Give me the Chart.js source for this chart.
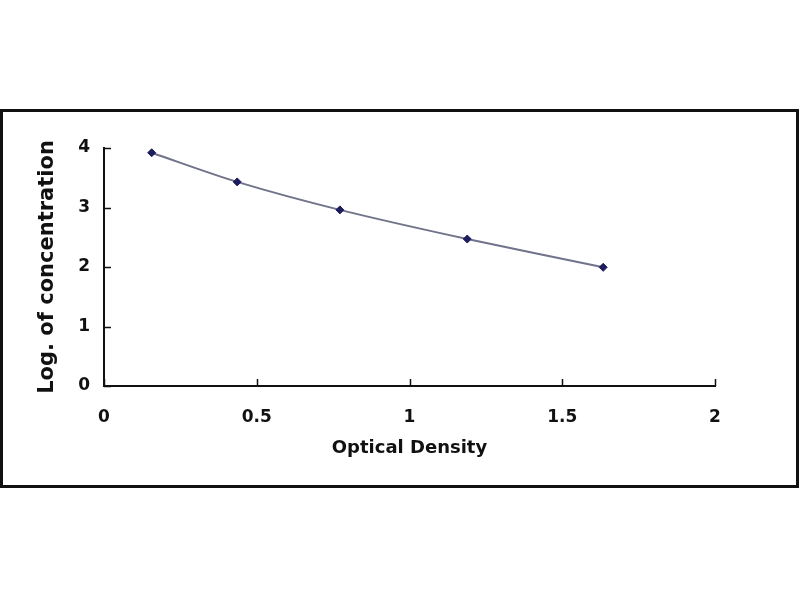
<!DOCTYPE html>
<html>
<head>
<meta charset="utf-8">
<script src="https://cdn.jsdelivr.net/npm/chart.js@4/dist/chart.umd.min.js"></script>
<style>
  html, body { margin: 0; padding: 0; background: #fff; }
  #wrap { position: absolute; left: 0; top: 0; width: 800px; height: 600px; }
</style>
</head>
<body>
<div id="wrap"><canvas id="stdCurve" width="800" height="600"></canvas></div>
<script>
// standard curve readings
const opticalDensity = [0.156, 0.436, 0.772, 1.189, 1.634];
const logConc = [3.92, 3.43, 2.96, 2.47, 1.995];
const xTicks = [0, 0.5, 1, 1.5, 2];
const yTicks = [0, 1, 2, 3, 4];

const points = opticalDensity.map((x, i) => ({ x: x, y: logConc[i] }));

// outer frame round the whole chart
const framePlugin = {
  id: 'frame',
  beforeDraw(chart) {
    const ctx = chart.ctx;
    ctx.save();
    ctx.strokeStyle = '#111';
    ctx.lineWidth = 3;
    ctx.strokeRect(1.5, 110.5, 796, 376);
    ctx.restore();
  }
};

// small tick marks pointing into the plot, like Excel
const innerTicks = {
  id: 'innerTicks',
  afterDatasetsDraw(chart) {
    const ctx = chart.ctx;
    const xs = chart.scales.x, ys = chart.scales.y;
    const area = chart.chartArea;
    ctx.save();
    ctx.strokeStyle = '#111';
    ctx.lineWidth = 1.5;
    ctx.beginPath();
    xs.ticks.forEach(t => {
      const px = Math.round(xs.getPixelForValue(t.value)) + 0.5;
      ctx.moveTo(px, area.bottom);
      ctx.lineTo(px, area.bottom - 7);
    });
    ys.ticks.forEach(t => {
      const py = Math.round(ys.getPixelForValue(t.value)) + 0.5;
      ctx.moveTo(area.left, py);
      ctx.lineTo(area.left + 7, py);
    });
    ctx.stroke();
    ctx.restore();
  }
};

new Chart(document.getElementById('stdCurve').getContext('2d'), {
  type: 'scatter',
  data: {
    datasets: [{
      data: points,
      showLine: true,
      tension: 0.3,
      borderColor: '#70738a',
      borderWidth: 2,
      pointStyle: 'rectRot',
      pointRadius: 4,
      pointBackgroundColor: '#1c1c5e',
      pointBorderColor: '#1c1c5e',
      pointBorderWidth: 1
    }]
  },
  options: {
    responsive: false,
    animation: false,
    layout: { padding: { left: 0, right: 85, top: 148, bottom: 0 } },
    plugins: {
      legend: { display: false },
      tooltip: { enabled: false }
    },
    scales: {
      x: {
        type: 'linear',
        min: 0,
        max: 2,
        afterFit(scale) { scale.height = 214; },
        afterBuildTicks(scale) { scale.ticks = xTicks.map(v => ({ value: v })); },
        grid: { display: false, drawTicks: false },
        border: { display: true, color: '#111', width: 2 },
        ticks: {
          padding: 21,
          color: '#111',
          font: { family: 'DejaVu Sans', size: 17, weight: 'bold' },
          callback: v => String(v)
        },
        title: {
          display: true,
          text: 'Optical Density',
          color: '#111',
          padding: { top: 0, bottom: 141 },
          font: { family: 'DejaVu Sans', size: 18, weight: 'bold' }
        }
      },
      y: {
        type: 'linear',
        min: 0,
        max: 4,
        afterFit(scale) { scale.width = 104; },
        afterBuildTicks(scale) { scale.ticks = yTicks.map(v => ({ value: v })); },
        grid: { display: false, drawTicks: false },
        border: { display: true, color: '#111', width: 2 },
        ticks: {
          padding: 14,
          color: '#111',
          font: { family: 'DejaVu Sans', size: 17, weight: 'bold' },
          callback: v => String(v)
        },
        title: {
          display: true,
          text: 'Log. of concentration',
          color: '#111',
          padding: { top: 35, bottom: 0 },
          font: { family: 'DejaVu Sans', size: 21, weight: 'bold' }
        }
      }
    }
  },
  plugins: [framePlugin, innerTicks]
});
</script>
</body>
</html>
